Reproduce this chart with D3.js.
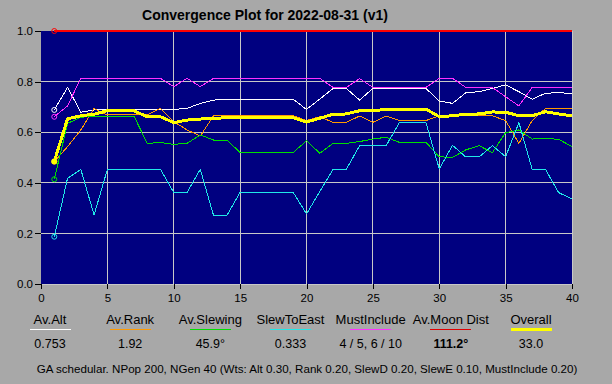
<!DOCTYPE html>
<html>
<head>
<meta charset="utf-8">
<script src="https://cdn.jsdelivr.net/npm/d3@7"></script>
<style>
  html, body { margin: 0; padding: 0; background: #a8a8a8; }
  svg { display: block; }
  text { font-family: "Liberation Sans", Arial, sans-serif; fill: #000; }
</style>
</head>
<body>
<svg id="chart" width="612" height="384"></svg>
<script>
// ---- data ----
const generations = [1,2,3,4,5,6,7,8,9,10,11,12,13,14,15,16,17,18,19,20,21,22,23,24,25,26,27,28,29,30,31,32,33,34,35,36,37,38,39,40];

const avAlt = [0.688,0.777,0.679,0.688,0.688,0.688,0.688,0.688,0.688,0.690,0.694,0.714,0.727,0.730,0.730,0.730,0.730,0.730,0.730,0.690,
               0.731,0.773,0.773,0.727,0.773,0.773,0.773,0.773,0.773,0.723,0.714,0.756,0.760,0.773,0.787,0.760,0.730,0.754,0.756,0.753];
const avRank = [0.484,0.543,0.609,0.694,0.668,0.668,0.668,0.668,0.694,0.642,0.609,0.585,0.665,0.665,0.665,0.665,0.665,0.665,0.665,0.646,
                0.661,0.639,0.639,0.664,0.639,0.664,0.646,0.646,0.646,0.665,0.665,0.665,0.665,0.665,0.646,0.556,0.646,0.694,0.694,0.694];
const avSlewing = [0.414,0.635,0.659,0.664,0.664,0.664,0.664,0.556,0.559,0.552,0.556,0.589,0.569,0.569,0.520,0.520,0.520,0.520,0.520,0.566,
                   0.517,0.556,0.556,0.563,0.573,0.580,0.560,0.560,0.560,0.503,0.500,0.530,0.547,0.519,0.598,0.609,0.573,0.575,0.572,0.543];
const slewToEast = [0.187,0.418,0.453,0.273,0.453,0.453,0.453,0.453,0.453,0.362,0.362,0.453,0.271,0.271,0.362,0.362,0.362,0.362,0.362,0.277,
                    0.365,0.453,0.453,0.547,0.547,0.547,0.638,0.638,0.638,0.455,0.548,0.502,0.502,0.547,0.503,0.638,0.453,0.453,0.361,0.336];
const mustInclude = [0.661,0.704,0.813,0.813,0.813,0.813,0.813,0.813,0.813,0.780,0.813,0.780,0.813,0.813,0.813,0.813,0.813,0.813,0.813,0.813,
                     0.813,0.777,0.777,0.812,0.777,0.777,0.777,0.777,0.777,0.813,0.813,0.777,0.777,0.777,0.740,0.704,0.777,0.777,0.777,0.777];
const moonDist = [1,1,1,1,1,1,1,1,1,1,1,1,1,1,1,1,1,1,1,1,1,1,1,1,1,1,1,1,1,1,1,1,1,1,1,1,1,1,1,1];
const overall = [0.484,0.653,0.665,0.671,0.685,0.685,0.685,0.661,0.661,0.638,0.648,0.652,0.655,0.657,0.657,0.657,0.657,0.657,0.657,0.640,
                 0.655,0.671,0.672,0.685,0.685,0.690,0.691,0.691,0.691,0.661,0.665,0.671,0.672,0.680,0.679,0.665,0.665,0.681,0.672,0.665];

const legendNames  = ["Av.Alt","Av.Rank","Av.Slewing","SlewToEast","MustInclude","Av.Moon Dist","Overall"];
const legendValues = ["0.753","1.92","45.9°","0.333","4 / 5, 6 / 10","111.2°","33.0"];
const yTicks = [0,0.2,0.4,0.6,0.8,1.0];
const xTicks = [0,5,10,15,20,25,30,35,40];

const titleText = "Convergence Plot for 2022-08-31 (v1)";
const footerText = "GA schedular. NPop 200, NGen 40 (Wts: Alt 0.30, Rank 0.20, SlewD 0.20, SlewE 0.10, MustInclude 0.20)";

// ---- series config (drawing order) ----
const series = [
  {name:"Av.Alt",      values: avAlt,       color:"#ffffff", width:1, marker:"ring"},
  {name:"Av.Rank",     values: avRank,      color:"#ff9a00", width:1, marker:"ring"},
  {name:"Av.Slewing",  values: avSlewing,   color:"#00e000", width:1, marker:"ring"},
  {name:"SlewToEast",  values: slewToEast,  color:"#20e8e8", width:1, marker:"ring"},
  {name:"MustInclude", values: mustInclude, color:"#ff30ff", width:1, marker:"ring"},
  {name:"Av.Moon Dist",values: moonDist,    color:"#ff0000", width:2, marker:"ring"},
  {name:"Overall",     values: overall,     color:"#ffff00", width:3, marker:"dot"}
];
const legendColors = {"Av.Alt":"#ffffff","Av.Rank":"#ff9a00","Av.Slewing":"#00e000","SlewToEast":"#20e8e8","MustInclude":"#ff30ff","Av.Moon Dist":"#e00000","Overall":"#ffff00"};

// ---- layout ----
const svg = d3.select("#chart");
const x = d3.scaleLinear().domain([0,40]).range([41,572]);
const y = d3.scaleLinear().domain([0,1]).range([284,31]);

// plot background
svg.append("rect")
  .attr("x", x(0)).attr("y", y(1))
  .attr("width", x(40)-x(0)).attr("height", y(0)-y(1))
  .attr("fill", "#000080");

// grid
const grid = svg.append("g").attr("shape-rendering","crispEdges").attr("stroke","#c8c8c8").attr("stroke-width",1);
xTicks.filter(d => d > 0).forEach(d => {
  grid.append("line").attr("x1", x(d)).attr("x2", x(d)).attr("y1", y(1)).attr("y2", y(0));
});
yTicks.filter(d => d < 1).forEach(d => {
  grid.append("line").attr("x1", x(0)).attr("x2", x(40)).attr("y1", y(d)).attr("y2", y(d));
});

// axes
const yAxis = d3.axisLeft(y).tickValues(yTicks).tickFormat(d3.format(".1f")).tickSize(6).tickPadding(2);
const gy = svg.append("g").attr("transform", `translate(${x(0)},0)`).call(yAxis);
gy.select(".domain").remove();
gy.selectAll(".tick line").attr("stroke","#000").attr("shape-rendering","crispEdges");
gy.selectAll("text").style("font-size","11.5px").style("fill","#000");

const xAxis = d3.axisBottom(x).tickValues(xTicks).tickFormat(d3.format("d")).tickSize(5).tickPadding(5);
const gx = svg.append("g").attr("transform", `translate(0,${y(0)})`).call(xAxis);
gx.select(".domain").remove();
gx.selectAll(".tick line").attr("stroke","#000").attr("shape-rendering","crispEdges");
gx.selectAll("text").style("font-size","11.5px").style("fill","#000");

// lines
const line = d3.line().x((d,i) => x(generations[i])).y(d => y(d));
series.forEach(s => {
  svg.append("path")
    .datum(s.values)
    .attr("d", line)
    .attr("fill","none")
    .attr("stroke", s.color)
    .attr("stroke-width", s.width)
    .attr("stroke-linejoin","round")
    .attr("shape-rendering","crispEdges");
});
// markers at first generation
series.forEach(s => {
  if (s.marker === "ring") {
    svg.append("circle")
      .attr("cx", x(generations[0])).attr("cy", y(s.values[0])).attr("r", 2.5)
      .attr("fill","none").attr("stroke", s.color).attr("stroke-width",1);
  } else {
    svg.append("circle")
      .attr("cx", x(generations[0])).attr("cy", y(s.values[0])).attr("r", 3)
      .attr("fill", s.color);
  }
});

// title
svg.append("text")
  .attr("x", 265).attr("y", 20)
  .attr("text-anchor","middle")
  .style("font-size","14px").style("font-weight","bold")
  .text(titleText);

// legend
const lx = d3.scalePoint().domain(legendNames).range([50, 531]);
legendNames.forEach((n,i) => {
  const cx = lx(n);
  svg.append("text").attr("x", cx).attr("y", 324).attr("text-anchor","middle")
    .style("font-size","13px").text(n);
  svg.append("line")
    .attr("x1", cx-20.5).attr("x2", cx+20.5)
    .attr("y1", 329.5).attr("y2", 329.5)
    .attr("stroke", legendColors[n])
    .attr("stroke-width", n === "Overall" ? 2.5 : 1.2)
    .attr("shape-rendering","crispEdges");
  svg.append("text").attr("x", cx).attr("y", 348).attr("text-anchor","middle")
    .style("font-size","12.5px")
    .style("font-weight", n === "Av.Moon Dist" ? "bold" : "normal")
    .text(legendValues[i]);
});

// footer
svg.append("text")
  .attr("x", 307).attr("y", 373)
  .attr("text-anchor","middle")
  .style("font-size","11.6px")
  .text(footerText);
</script>
</body>
</html>
